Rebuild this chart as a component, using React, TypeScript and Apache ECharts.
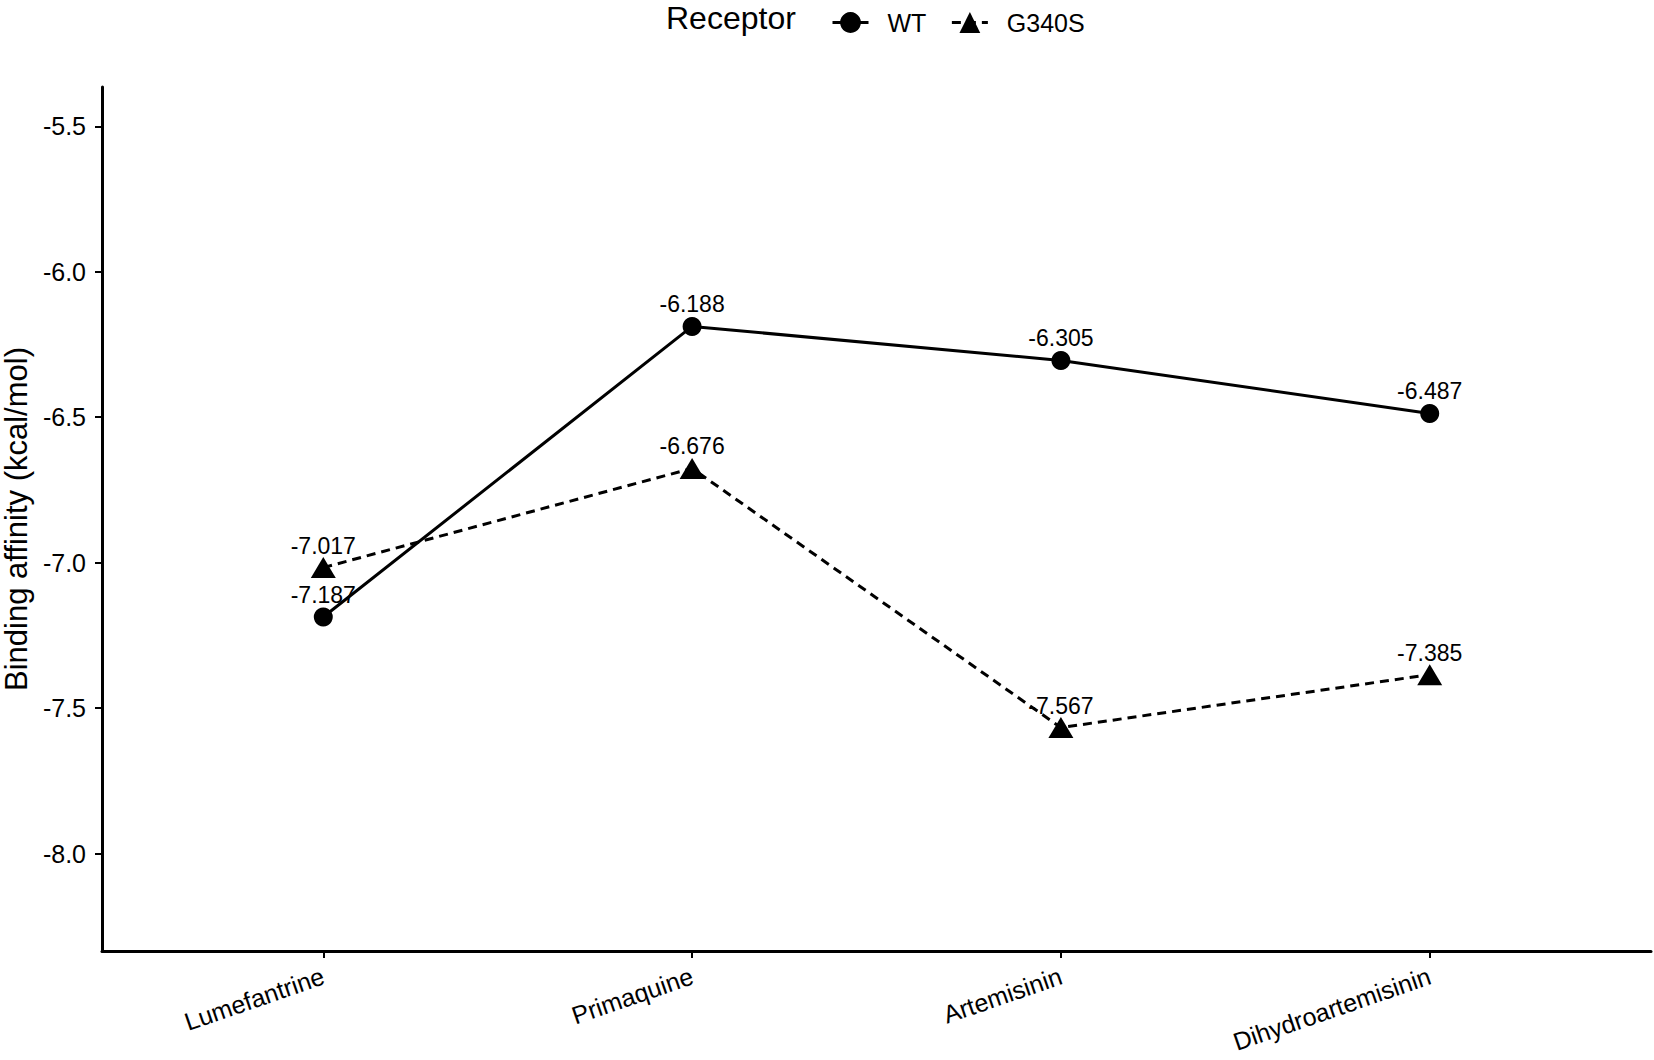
import { useEffect, useRef } from "react";
import * as echarts from "echarts";

const drugs = ["Lumefantrine", "Primaquine", "Artemisinin", "Dihydroartemisinin"];
const wtValues = [-7.187, -6.188, -6.305, -6.487];
const g340sValues = [-7.017, -6.676, -7.567, -7.385];
const yTicks = [-8.0, -7.5, -7.0, -6.5, -6.0, -5.5];
const xTicks = [0, 1, 2, 3];

const FONT = "'Liberation Sans', Arial, Helvetica, sans-serif";

const App = () => {
    const chartRef = useRef<HTMLDivElement>(null);

    useEffect(() => {
        document.body.style.margin = "0";
        if (!chartRef.current) return;

        const chart = echarts.init(chartRef.current, undefined, { renderer: "svg" });

        const label = {
            show: true,
            position: "inside",
            offset: [0, -22],
            formatter: (p: any) => p.value[1].toFixed(3),
            fontSize: 23,
            fontFamily: FONT,
            color: "#000",
            textBorderWidth: 0,
        };

        chart.setOption({
            animation: false,
            backgroundColor: "#fff",
            textStyle: { fontFamily: FONT, color: "#000" },
            grid: { left: 102, right: 3, top: 87, bottom: 109, containLabel: false, outerBoundsMode: "none" },
            graphic: [
                {
                    type: "text",
                    x: 666,
                    y: 18,
                    style: {
                        text: "Receptor",
                        font: `32px ${FONT}`,
                        fill: "#000",
                        align: "left",
                        verticalAlign: "middle",
                    },
                },
            ],
            legend: {
                left: 826,
                top: 5,
                itemWidth: 36,
                itemHeight: 26,
                itemGap: 24,
                data: ["WT", "G340S"],
                lineStyle: { width: 3 },
                textStyle: { fontSize: 25, fontFamily: FONT, color: "#000", padding: [0, 0, 0, 14] },
            },
            xAxis: {
                type: "value",
                min: -0.6,
                max: 3.6,
                splitLine: { show: false },
                axisLine: { show: true, onZero: false, lineStyle: { color: "#000", width: 3 } },
                axisTick: { show: true, customValues: xTicks, length: 7, lineStyle: { color: "#000", width: 2 } },
                axisLabel: {
                    customValues: xTicks,
                    formatter: (v: number) => drugs[Math.round(v)] ?? "",
                    rotate: 19,
                    margin: 24,
                    fontSize: 25,
                    fontFamily: FONT,
                    color: "#000",
                },
            },
            yAxis: {
                type: "value",
                min: -8.335,
                max: -5.365,
                splitLine: { show: false },
                axisLine: { show: true, onZero: false, lineStyle: { color: "#000", width: 3 } },
                axisTick: { show: true, customValues: yTicks, length: 7, lineStyle: { color: "#000", width: 2 } },
                axisLabel: {
                    customValues: yTicks,
                    formatter: (v: number) => v.toFixed(1),
                    margin: 16,
                    fontSize: 25,
                    fontFamily: FONT,
                    color: "#000",
                },
                name: "Binding affinity (kcal/mol)",
                nameLocation: "middle",
                nameGap: 66,
                nameTextStyle: { fontSize: 31, fontFamily: FONT, color: "#000" },
            },
            series: [
                {
                    name: "WT",
                    type: "line",
                    data: wtValues.map((v, i) => [i, v]),
                    symbol: "circle",
                    symbolSize: 19,
                    lineStyle: { color: "#000", width: 3, type: "solid" },
                    itemStyle: { color: "#000" },
                    label,
                },
                {
                    name: "G340S",
                    type: "line",
                    data: g340sValues.map((v, i) => [i, v]),
                    symbol: "triangle",
                    symbolSize: [25, 21],
                    lineStyle: { color: "#000", width: 3, type: [9, 6] },
                    itemStyle: { color: "#000" },
                    label,
                },
            ],
        });

        return () => {
            chart.dispose();
        };
    }, []);

    return <div ref={chartRef} style={{ width: "1654px", height: "1060px" }} />;
};

export default App;
